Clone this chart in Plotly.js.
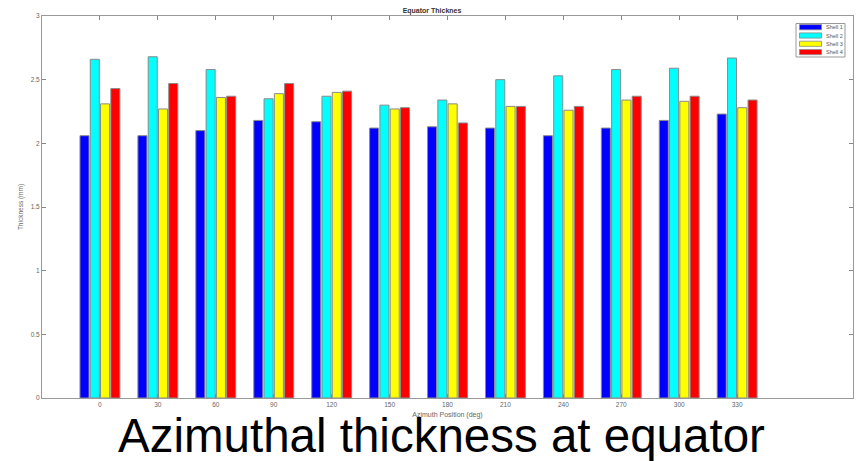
<!DOCTYPE html>
<html>
<head>
<meta charset="utf-8">
<script src="https://cdn.plot.ly/plotly-3.0.1.min.js"></script>
<style>html,body{margin:0;padding:0;background:#fff;}#chart{width:864px;height:461px;}</style>
</head>
<body>
<div id="chart"></div>
<script>
const azimuth = [0, 30, 60, 90, 120, 150, 180, 210, 240, 270, 300, 330];
const tickLabels = ["0","30","60","90","120","150","180","210","240","270","300","330"];
const seriesNames = ["Shell 1", "Shell 2", "Shell 3", "Shell 4"];
const shell1 = [2.06, 2.06, 2.10, 2.18, 2.17, 2.12, 2.13, 2.12, 2.06, 2.12, 2.18, 2.23];
const shell2 = [2.66, 2.68, 2.58, 2.35, 2.37, 2.30, 2.34, 2.50, 2.53, 2.58, 2.59, 2.67];
const shell3 = [2.31, 2.27, 2.36, 2.39, 2.40, 2.27, 2.31, 2.29, 2.26, 2.34, 2.33, 2.28];
const shell4 = [2.43, 2.47, 2.37, 2.47, 2.41, 2.28, 2.16, 2.29, 2.29, 2.37, 2.37, 2.34];
const seriesColors = ["#0000ff", "#00ffff", "#ffff00", "#ff0000"];
const seriesValues = [shell1, shell2, shell3, shell4];

const traces = seriesValues.map((vals, i) => ({
  type: "bar",
  name: seriesNames[i],
  x: azimuth,
  y: vals,
  marker: {color: seriesColors[i], line: {color: "#8a8a8a", width: 1}},
  hoverinfo: "x+y+name"
}));

// plot area in pixels (for placing the compact MATLAB-style legend)
const PL = 42, PR = 853, PT = 16, PB = 398;
const px = v => (v - PL) / (PR - PL);
const py = v => (PB - v) / (PB - PT);

const shapes = [{
  type: "rect", xref: "paper", yref: "paper",
  x0: px(796), x1: px(845), y0: py(57), y1: py(23.5),
  line: {color: "#999", width: 1}, fillcolor: "#ffffff", layer: "above"
}];
const annotations = [];
seriesNames.forEach((n, i) => {
  const cy = 27.2 + i * 8.3;
  shapes.push({
    type: "rect", xref: "paper", yref: "paper",
    x0: px(799.5), x1: px(821.5), y0: py(cy + 2.6), y1: py(cy - 2.6),
    line: {color: "#8a8a8a", width: 0.8}, fillcolor: seriesColors[i], layer: "above"
  });
  annotations.push({
    text: n, xref: "paper", yref: "paper",
    x: px(823.5), y: py(cy), xanchor: "left", yanchor: "middle",
    showarrow: false, font: {size: 5.5, color: "#555"}
  });
});
annotations.push({
  text: "Azimuthal thickness at equator",
  xref: "paper", yref: "paper",
  x: 0.492, y: -0.097, xanchor: "center", yanchor: "middle",
  showarrow: false,
  font: {size: 47.5, color: "#000", family: "Liberation Sans, Arial, sans-serif"}
});

const layout = {
  width: 864, height: 461,
  margin: {l: PL, r: 864 - PR, t: PT, b: 461 - PB},
  paper_bgcolor: "#ffffff",
  plot_bgcolor: "#ffffff",
  barmode: "group",
  bargap: 0.29,
  bargroupgap: 0.12,
  font: {family: "Liberation Sans, Arial, sans-serif", color: "#555"},
  title: {text: "<b>Equator Thicknes</b>", font: {size: 7, color: "#333"}, x: 0.5, xanchor: "center", y: 0.978, yanchor: "middle"},
  xaxis: {
    range: [-30, 390],
    tickvals: azimuth, ticktext: tickLabels,
    ticks: "inside", ticklen: 4, tickcolor: "#888",
    showline: true, linecolor: "#999", linewidth: 1, mirror: "ticks",
    showgrid: false, zeroline: false,
    tickfont: {size: 6.5, color: "#666"},
    title: {text: "Azimuth Position (deg)", font: {size: 7, color: "#666"}, standoff: 5}
  },
  yaxis: {
    range: [0, 3], dtick: 0.5, tick0: 0,
    ticks: "inside", ticklen: 4, tickcolor: "#888",
    showline: true, linecolor: "#999", linewidth: 1, mirror: "ticks",
    showgrid: false, zeroline: false,
    tickfont: {size: 6.5, color: "#666"},
    title: {text: "Thickness (mm)", font: {size: 6.5, color: "#666"}, standoff: 6}
  },
  shapes: shapes,
  annotations: annotations,
  showlegend: false
};

Plotly.newPlot("chart", traces, layout, {displayModeBar: false, staticPlot: true});
</script>
</body>
</html>
